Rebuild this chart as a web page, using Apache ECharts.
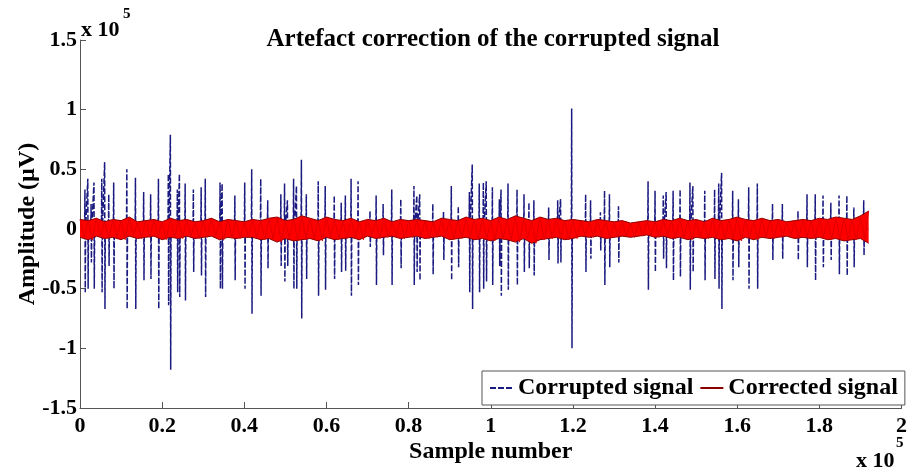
<!DOCTYPE html>
<html>
<head>
<meta charset="utf-8">
<script src="https://cdn.jsdelivr.net/npm/echarts@6/dist/echarts.min.js"></script>
<style>html,body{margin:0;padding:0;background:#fff}#c{width:910px;height:469px}</style>
</head>
<body>
<div id="c"></div>
<script>
// Values in units of 1e5 (samples and µV), as displayed on the axes
const xTicks = [0,0.2,0.4,0.6,0.8,1,1.2,1.4,1.6,1.8,2];
const yTicks = [-1.5,-1,-0.5,0,0.5,1,1.5];
const signalEnd = 1.92;

// Artefact spikes of the corrupted signal: position, positive peak, negative peak
const spikeX = [
 0.012,0.019,0.027,0.034,0.053,0.060,0.070,0.082,0.114,0.135,
 0.155,0.172,0.191,0.215,0.220,0.237,0.242,0.256,0.276,0.295,
 0.305,0.341,0.346,0.377,0.401,0.418,0.440,0.457,0.489,0.498,
 0.505,0.520,0.527,0.539,0.551,0.580,0.597,0.619,0.636,0.646,
 0.660,0.677,0.706,0.721,0.738,0.759,0.781,0.813,0.820,0.827,
 0.859,0.885,0.904,0.921,0.948,0.955,0.972,0.982,0.989,1.004,
 1.021,1.025,1.042,1.064,1.081,1.093,1.105,1.141,1.163,1.170,
 1.197,1.231,1.243,1.267,1.277,1.289,1.311,1.383,1.400,1.420,
 1.427,1.444,1.461,1.485,1.492,1.521,1.545,1.555,1.562,1.589,
 1.603,1.628,1.649,1.686,1.710,1.748,1.770,1.790,1.809,1.828,
 1.848,1.867,1.884,1.908];
const spikeHi = [
 0.33,0.42,0.21,0.39,0.42,0.56,0.29,0.39,0.50,0.43,
 0.31,0.29,0.42,0.46,0.79,0.33,0.46,0.38,0.33,0.35,
 0.42,0.39,0.38,0.28,0.39,0.50,0.42,0.24,0.29,0.38,
 0.24,0.42,0.36,0.58,0.29,0.40,0.36,0.28,0.22,0.28,
 0.42,0.40,0.15,0.28,0.21,0.33,0.25,0.36,0.28,0.29,
 0.21,0.15,0.36,0.19,0.31,0.54,0.38,0.39,0.40,0.35,
 0.25,0.33,0.38,0.33,0.29,0.22,0.24,0.18,0.24,0.25,
 1.01,0.29,0.24,0.14,0.32,0.29,0.19,0.40,0.32,0.28,
 0.31,0.32,0.33,0.39,0.36,0.32,0.33,0.38,0.47,0.32,
 0.25,0.35,0.38,0.21,0.21,0.15,0.29,0.29,0.28,0.22,
 0.28,0.28,0.18,0.24];
const spikeLo = [
 -0.53,-0.50,-0.28,-0.50,-0.53,-0.67,-0.31,-0.50,-0.67,-0.67,
 -0.43,-0.42,-0.67,-0.64,-1.18,-0.53,-0.57,-0.60,-0.36,-0.39,
 -0.57,-0.50,-0.50,-0.43,-0.50,-0.71,-0.56,-0.33,-0.31,-0.44,
 -0.31,-0.50,-0.50,-0.75,-0.42,-0.56,-0.51,-0.42,-0.36,-0.35,
 -0.56,-0.47,-0.15,-0.47,-0.22,-0.47,-0.33,-0.47,-0.36,-0.43,
 -0.38,-0.26,-0.43,-0.32,-0.53,-0.67,-0.53,-0.50,-0.44,-0.47,
 -0.31,-0.56,-0.51,-0.47,-0.36,-0.33,-0.39,-0.26,-0.29,-0.28,
 -1.00,-0.36,-0.25,-0.18,-0.47,-0.32,-0.28,-0.51,-0.36,-0.25,
 -0.33,-0.43,-0.40,-0.51,-0.36,-0.43,-0.42,-0.50,-0.67,-0.43,
 -0.32,-0.50,-0.50,-0.26,-0.25,-0.26,-0.32,-0.43,-0.32,-0.26,
 -0.38,-0.39,-0.32,-0.22];

// Corrected signal: upper and lower excursions read every 0.02 (x 1e5 samples)
const corrStep = 0.02;
const corrHi = [
 0.08,0.07,0.09,0.06,0.08,0.07,0.10,0.06,0.07,0.08,0.06,0.09,0.07,0.08,0.06,0.07,0.09,0.06,0.08,0.07,0.06,
 0.08,0.07,0.09,0.10,0.07,0.08,0.11,0.09,0.07,0.10,0.08,0.07,0.09,0.06,0.08,0.07,0.09,0.06,0.08,0.07,
 0.08,0.07,0.06,0.09,0.08,0.07,0.10,0.08,0.09,0.07,0.10,0.08,0.11,0.09,0.07,0.10,0.08,0.09,0.07,0.08,
 0.07,0.06,0.08,0.07,0.06,0.07,0.05,0.06,0.07,0.06,0.08,0.07,0.09,0.07,0.08,0.06,0.09,0.07,0.08,0.10,
 0.08,0.07,0.09,0.07,0.08,0.06,0.07,0.08,0.07,0.09,0.08,0.10,0.09,0.08,0.11,0.15];
const corrLo = [
 -0.07,-0.09,-0.06,-0.08,-0.07,-0.09,-0.06,-0.08,-0.07,-0.06,-0.09,-0.07,-0.08,-0.06,-0.08,-0.07,-0.06,-0.09,-0.07,-0.08,-0.07,
 -0.07,-0.09,-0.08,-0.11,-0.08,-0.10,-0.09,-0.08,-0.10,-0.07,-0.09,-0.08,-0.07,-0.09,-0.06,-0.08,-0.07,-0.06,-0.08,-0.07,
 -0.06,-0.08,-0.07,-0.06,-0.09,-0.08,-0.07,-0.09,-0.08,-0.10,-0.08,-0.09,-0.11,-0.08,-0.12,-0.09,-0.08,-0.07,-0.09,-0.08,
 -0.06,-0.07,-0.06,-0.08,-0.07,-0.06,-0.07,-0.06,-0.05,-0.07,-0.06,-0.08,-0.07,-0.09,-0.07,-0.08,-0.07,-0.09,-0.08,-0.10,
 -0.07,-0.09,-0.07,-0.08,-0.07,-0.06,-0.08,-0.07,-0.08,-0.07,-0.09,-0.08,-0.10,-0.09,-0.08,-0.12];

// Build series data
const corrupted = [[0,0]];
const w = 0.0008;
for (let i = 0; i < spikeX.length; i++) {
  const x = spikeX[i];
  corrupted.push([x - w, 0], [x, spikeHi[i]], [x + w, spikeLo[i]], [x + 2*w, 0]);
}
corrupted.push([signalEnd, 0]);

const upper = corrHi.map((v, i) => [i * corrStep, v]);
const lower = corrLo.map((v, i) => [i * corrStep, v]);
const zig = [];
for (let i = 0; i < corrHi.length; i++) {
  const x = i * corrStep;
  zig.push([x, corrHi[i]]);
  if (x + corrStep/2 <= signalEnd) zig.push([x + corrStep/2, corrLo[i]]);
}

const FONT = '"Liberation Serif", "Times New Roman", serif';
const chart = echarts.init(document.getElementById('c'), null, {renderer: 'canvas'});
const yTop = 1.5 + 1/12; // axis drawn a bit above the 1.5 tick, as in the source figure
const CORR = 'Corrected signal';

chart.setOption({
  animation: false,
  backgroundColor: '#fff',
  grid: {left: 80, right: 3, top: 40, bottom: 59, containLabel: false},
  xAxis: {
    type: 'value', min: 0, max: 2, interval: 0.2,
    axisLine: {show: true, onZero: false, lineStyle: {color: '#555', width: 1}},
    axisTick: {show: true, inside: true, length: 6, lineStyle: {color: '#555'}, customValues: xTicks},
    axisLabel: {color: '#000', fontFamily: FONT, fontWeight: 'bold', fontSize: 22, margin: 7,
      customValues: xTicks},
    splitLine: {show: false},
    name: 'Sample number', nameLocation: 'middle', nameGap: 32, nameMoveOverlap: false,
    nameTextStyle: {color: '#000', fontFamily: FONT, fontWeight: 'bold', fontSize: 24}
  },
  yAxis: {
    type: 'value', min: -1.5, max: yTop, interval: 0.5,
    axisLine: {show: true, onZero: false, lineStyle: {color: '#555', width: 1}},
    axisTick: {show: true, inside: true, length: 6, lineStyle: {color: '#555'},
      customValues: [-1.5,-1,-0.5,0,0.5,1,yTop]},
    axisLabel: {color: '#000', fontFamily: FONT, fontWeight: 'bold', fontSize: 22, margin: 3,
      customValues: [-1.5,-1,-0.5,0,0.5,1,yTop],
      formatter: v => (v > 1.5 ? String(yTicks[yTicks.length-1]) : String(Math.round(v*10)/10))},
    splitLine: {show: false},
    name: 'Amplitude (µV)', nameLocation: 'middle', nameGap: 40, nameRotate: 90, nameMoveOverlap: false,
    nameTextStyle: {color: '#000', fontFamily: FONT, fontWeight: 'bold', fontSize: 24}
  },
  legend: {
    left: 482, top: 371, orient: 'horizontal',
    data: ['Corrupted signal', CORR],
    itemWidth: 23, itemHeight: 1, itemGap: 6,
    padding: [5, 7, 5, 7],
    borderColor: '#555', borderWidth: 1, backgroundColor: '#fff',
    textStyle: {color: '#000', fontFamily: FONT, fontWeight: 'bold', fontSize: 24}
  },
  graphic: [
    {type: 'text', x: 493, y: 27, style: {text: 'Artefact correction of the corrupted signal',
      fill: '#000', font: 'bold 25px ' + FONT, textAlign: 'center'}},
    {type: 'text', x: 81, y: 19, style: {text: 'x 10', fill: '#000', font: 'bold 22px ' + FONT}},
    {type: 'text', x: 123, y: 7, style: {text: '5', fill: '#000', font: 'bold 15px ' + FONT}},
    {type: 'text', x: 856, y: 450, style: {text: 'x 10', fill: '#000', font: 'bold 22px ' + FONT}},
    {type: 'text', x: 896, y: 436, style: {text: '5', fill: '#000', font: 'bold 15px ' + FONT}}
  ],
  series: [
    {
      name: 'Corrupted signal', type: 'line', data: corrupted, symbol: 'none',
      lineStyle: {color: '#1a1a80', width: 1.5, type: [6, 2]},
      itemStyle: {color: '#1a1a80'}, z: 2
    },
    {
      name: CORR, type: 'line', data: upper, symbol: 'none',
      lineStyle: {color: '#8b0000', width: 1},
      itemStyle: {color: '#a01818'},
      areaStyle: {color: '#ff0000', opacity: 1, origin: 0}, z: 3
    },
    {
      name: CORR, type: 'line', data: lower, symbol: 'none',
      lineStyle: {color: '#8b0000', width: 1},
      itemStyle: {color: '#a01818'},
      areaStyle: {color: '#ff0000', opacity: 1, origin: 0}, z: 3
    },
    {
      name: CORR, type: 'line', data: zig, symbol: 'none',
      lineStyle: {color: '#e00000', width: 1},
      itemStyle: {color: '#a01818'}, z: 4
    }
  ]
});
</script>
</body>
</html>
